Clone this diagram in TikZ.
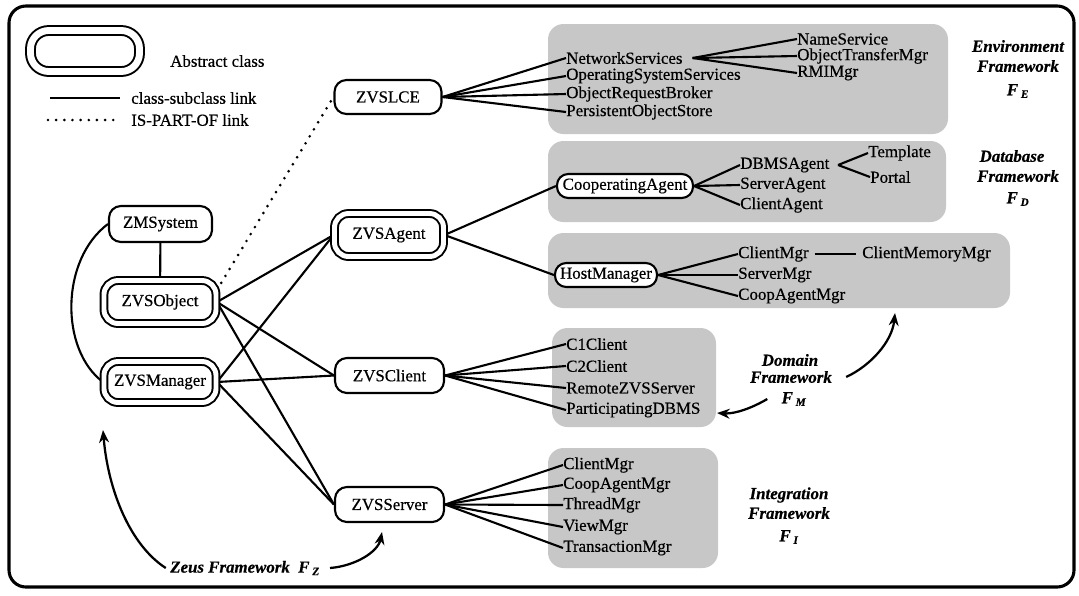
\documentclass[tikz,border=0pt]{standalone}
\usepackage{fontspec}
\setmainfont{Liberation Serif}[FakeBold=0.5]
\usetikzlibrary{arrows.meta}
\pgfdeclarelayer{shadelayer}
\pgfdeclarelayer{edgelayer}
\pgfsetlayers{shadelayer,edgelayer,main}
\newcommand{\FSub}[1]{\textbf{\textit{F}}\,\textsubscript{\textbf{\textit{#1}}}}
\begin{document}
\begin{tikzpicture}[x=0.025cm,y=-0.025cm,
  every node/.style={font=\fontsize{12}{13}\selectfont},
  lnk/.style={line width=1.5pt},
  dotl/.style={line width=2.1pt, line cap=round, dash pattern=on 0pt off 5.8pt},
  sbox/.style={draw, fill=white, line width=1.5pt, rounded corners=8.5pt, inner sep=0pt},
  dbox/.style={draw, fill=white, line width=1.4pt, double, double distance=3.5pt, rounded corners=10pt, inner sep=0pt},
  child/.style={anchor=west, inner sep=0pt},
  shadebox/.style={fill=black!22, rounded corners=11pt},
  lbl/.style={font=\fontsize{12}{13}\selectfont\bfseries\itshape, inner sep=0pt},
  arr/.style={line width=1.6pt, -{Stealth[length=9pt,width=7pt]}}
]
\useasboundingbox (0,0) rectangle (1079,595);
\draw[line width=2.2pt, rounded corners=12pt] (9,6) rectangle (1074,587);

% legend
\node[dbox, minimum width=2.725cm, minimum height=1.025cm, double distance=4.9pt, rounded corners=13pt] (leg) at (85,51) {};
\node[anchor=west, inner sep=0pt] (legA) at (170,61) {Abstract class};
\coordinate (l1a) at (50,98); \coordinate (l1b) at (120,98);
\node[anchor=west, inner sep=0pt] (legB) at (131,98) {class-subclass link};
\coordinate (l2a) at (48,120); \coordinate (l2b) at (120,120);
\node[anchor=west, inner sep=0pt] (legC) at (131,120) {IS-PART-OF link};

% main nodes
\node[sbox, minimum width=2.575cm, minimum height=0.9cm] (zms) at (160.5,224) {ZMSystem};
\node[dbox, minimum width=2.8cm, minimum height=1.075cm] (zvo) at (160,302) {ZVSObject};
\node[dbox, minimum width=2.8cm, minimum height=1.025cm] (zvm) at (160,382) {ZVSManager};
\node[dbox, minimum width=2.725cm, minimum height=1.075cm] (zva) at (389,235) {ZVSAgent};
\node[sbox, minimum width=2.675cm, minimum height=0.85cm] (zvl) at (388,97) {ZVSLCE};
\node[sbox, minimum width=2.725cm, minimum height=0.875cm] (zvc) at (389.5,375.5) {ZVSClient};
\node[sbox, minimum width=2.725cm, minimum height=0.875cm] (zvs) at (389.5,504.5) {ZVSServer};
\node[sbox, minimum width=3.4cm, minimum height=0.6cm, rounded corners=8pt] (coa) at (625,186) {CooperatingAgent};
\node[sbox, minimum width=2.55cm, minimum height=0.6cm, rounded corners=8pt] (hom) at (606,275) {HostManager};

% shaded regions
\begin{pgfonlayer}{shadelayer}
\fill[shadebox] (548,24) rectangle (948,134);
\fill[shadebox] (548,141) rectangle (946,222);
\fill[shadebox] (548,233) rectangle (1010,308);
\fill[shadebox] (552,328) rectangle (716,427);
\fill[shadebox] (548,448) rectangle (718,568);
\end{pgfonlayer}

% environment children
\node[child] (ns) at (566,58) {NetworkServices};
\node[child] (oss) at (566,76) {OperatingSystemServices};
\node[child] (orb) at (566,94) {ObjectRequestBroker};
\node[child] (pos) at (566,112) {PersistentObjectStore};
\node[child] (nsv) at (797,39) {NameService};
\node[child] (otm) at (797,56) {ObjectTransferMgr};
\node[child] (rmi) at (797,73) {RMIMgr};
\coordinate (nsx) at ([xshift=7pt]ns.east);

% database children
\node[child] (dbm) at (740,165) {DBMSAgent};
\node[child] (sva) at (740,185) {ServerAgent};
\node[child] (cla) at (740,205) {ClientAgent};
\node[child] (tpl) at (868,153) {Template};
\node[child] (prt) at (870,177) {Portal};
\coordinate (dbx) at ([xshift=6pt]dbm.east);

% host manager children
\node[child] (cmg) at (738,254) {ClientMgr};
\node[child] (smg) at (738,275) {ServerMgr};
\node[child] (cag) at (738,296) {CoopAgentMgr};
\node[child] (cmm) at (862,254) {ClientMemoryMgr};

% client children
\node[child] (c1c) at (566,344) {C1Client};
\node[child] (c2c) at (566,366) {C2Client};
\node[child] (rzs) at (566,388) {RemoteZVSServer};
\node[child] (pdb) at (566,410) {ParticipatingDBMS};

% server children
\node[child] (scm) at (563,465) {ClientMgr};
\node[child] (sca) at (563,485) {CoopAgentMgr};
\node[child] (stm) at (563,505) {ThreadMgr};
\node[child] (svm) at (563,527) {ViewMgr};
\node[child] (stx) at (563,548) {TransactionMgr};

% framework labels
\node[lbl] (envA) at (1018,46) {Environment};
\node[lbl] (envB) at (1018,66) {Framework};
\node[lbl] (envC) at (1018,91) {\FSub{E}};
\node[lbl] (datA) at (1012,156) {Database};
\node[lbl] (datB) at (1018,176) {Framework};
\node[lbl] (datC) at (1018,199) {\FSub{D}};
\node[lbl] (domA) at (790,360) {Domain};
\node[lbl] (domB) at (791,377) {Framework};
\node[lbl] (domC) at (794,399) {\FSub{M}};
\node[lbl] (intA) at (789,495) {Integration};
\node[lbl] (intB) at (789,513) {Framework};
\node[lbl] (intC) at (789,537) {\FSub{I}};
\node[lbl, anchor=west] (zeus) at (170,568) {Zeus Framework\ \ \FSub{Z}};

\coordinate (zTipA) at (103,430);
\coordinate (zTipB) at (382,532);
\coordinate (dTipA) at (895,313);
\coordinate (dTipB) at (717,413);

\begin{pgfonlayer}{edgelayer}
\draw[lnk] (l1a) -- (l1b);
\draw[dotl] (l2a) -- (l2b);
\draw[lnk] (zms) -- (zvo);
\draw[lnk] (zms.west) .. controls (60,260) and (60,350) .. (zvm.west);
\draw[dotl] (zvo.12) -- (zvl.west);
\draw[lnk] (zvo.east) -- (zva.west);
\draw[lnk] (zvo.east) -- (zvc.west);
\draw[lnk] (zvo.east) -- (zvs.west);
\draw[lnk] (zvm.east) -- (zva.west);
\draw[lnk] (zvm.east) -- (zvc.west);
\draw[lnk] (zvm.east) -- (zvs.west);
\foreach \t in {ns,oss,orb,pos} \draw[lnk] (zvl.east) -- (\t.west);
\foreach \t in {nsv,otm,rmi} \draw[lnk] (nsx) -- (\t.west);
\draw[lnk] (zva.east) -- (coa.west);
\draw[lnk] (zva.east) -- (hom.west);
\foreach \t in {dbm,sva,cla} \draw[lnk] (coa.east) -- (\t.west);
\foreach \t in {tpl,prt} \draw[lnk] (dbx) -- (\t.west);
\foreach \t in {cmg,smg,cag} \draw[lnk] (hom.east) -- (\t.west);
\draw[line width=1.2pt] ([xshift=4pt]cmg.east) -- ([xshift=-4pt]cmm.west);
\foreach \t in {c1c,c2c,rzs,pdb} \draw[lnk] (zvc.east) -- (\t.west);
\foreach \t in {scm,sca,stm,svm,stx} \draw[lnk] (zvs.east) -- (\t.west);
\draw[arr] ([xshift=-3pt]zeus.west) .. controls (130,545) and (108,490) .. (zTipA);
\draw[arr] ([xshift=7pt]zeus.east) .. controls (355,566) and (378,552) .. (zTipB);
\draw[arr] ([xshift=10pt]domB.east) .. controls (870,366) and (892,342) .. (dTipA);
\draw[arr] ([xshift=-10pt]domC.west) .. controls (752,408) and (735,414) .. (dTipB);
\end{pgfonlayer}
\end{tikzpicture}
\end{document}
